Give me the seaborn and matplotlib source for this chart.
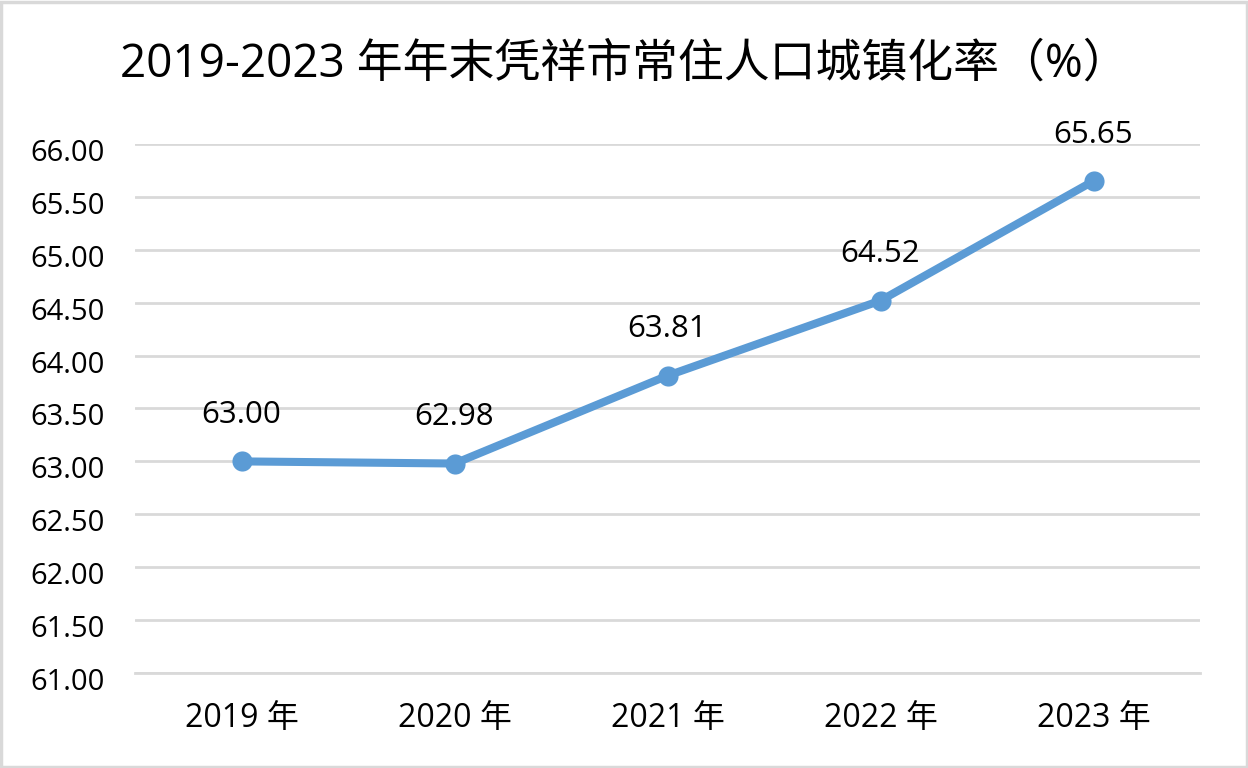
import matplotlib
matplotlib.use("Agg")
import matplotlib.pyplot as plt
import matplotlib.transforms as mtrans
import seaborn as sns
import pandas as pd
from matplotlib.patches import Rectangle

years = ["2019 年", "2020 年", "2021 年", "2022 年", "2023 年"]
rates = [63.00, 62.98, 63.81, 64.52, 65.65]
yticks = [61.0, 61.5, 62.0, 62.5, 63.0, 63.5, 64.0, 64.5, 65.0, 65.5, 66.0]
title = "2019-2023 年年末凭祥市常住人口城镇化率（%）"

sns.set_theme(style="white")
plt.rcParams['font.family'] = ['Open Sans', 'Noto Sans CJK SC', 'DejaVu Sans']

df = pd.DataFrame({"year": years, "rate": rates})

fig = plt.figure(figsize=(12.48, 7.68), dpi=100)
ax = fig.add_axes([135/1248, 1-673/768, (1200-135)/1248, (673-144)/768])

color = "#5B9BD5"
sns.lineplot(data=df, x="year", y="rate", ax=ax, color=color, linewidth=5.8,
             marker="o", markersize=14.5, markeredgewidth=0, sort=False)

ax.set_xlim(-0.5, len(years)-0.5)
ax.set_ylim(61, 66)
ax.set_yticks(yticks)
ax.set_yticklabels([f"{v:.2f}" for v in yticks])
ax.yaxis.grid(True, color="#D9D9D9", linewidth=2)
ax.set_axisbelow(True)
for s in ["top", "right", "left"]:
    ax.spines[s].set_visible(False)
ax.spines["bottom"].set_color("#D9D9D9")
ax.spines["bottom"].set_linewidth(2)
ax.set_xlabel("")
ax.set_ylabel("")
ax.tick_params(axis="y", length=0, labelsize=21, pad=22, colors="#000000")
shift = mtrans.ScaledTranslation(0, -6/100, fig.dpi_scale_trans)
for lab in ax.get_yticklabels():
    lab.set_transform(lab.get_transform() + shift)
ax.set_xticks(range(len(years)))
ax.set_xticklabels(years)
ax.tick_params(axis="x", length=0, labelsize=23, pad=21, colors="#000000")
# minor ticks at category boundaries
ax.set_xticks([i - 0.5 for i in range(len(years)+1)], minor=True)
ax.tick_params(axis="x", which="minor", length=7, width=2, color="#D9D9D9", direction="out")

for i, v in enumerate(rates):
    ax.annotate(f"{v:.2f}", (i, v), xytext=(0, 33.5), textcoords="offset points",
                ha="center", va="center", fontsize=22.5, color="#000000", annotation_clip=False)

fig.text(0.5, 1-65/768, title, ha="center", va="center", fontsize=33, color="#000000")

fig.patches.append(Rectangle((0.001, 0.001), 0.998, 0.997, transform=fig.transFigure,
                             fill=False, edgecolor="#D9D9D9", linewidth=2.5))

fig.savefig("out.png", dpi=100)
